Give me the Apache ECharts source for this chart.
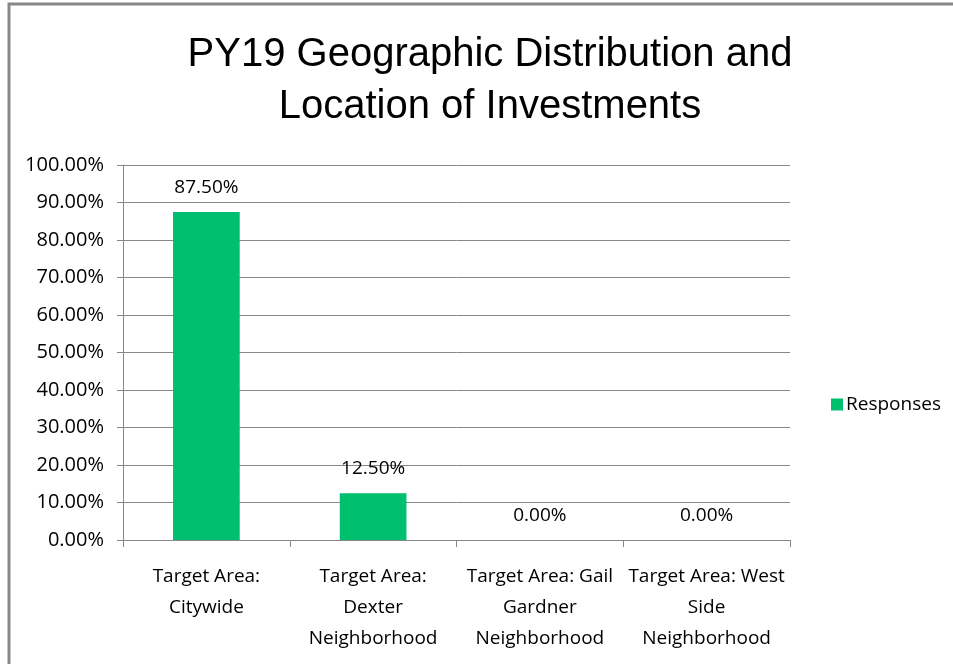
<!DOCTYPE html>
<html>
<head>
<meta charset="utf-8">
<script src="https://cdn.jsdelivr.net/npm/echarts@6/dist/echarts.min.js"></script>
<style>html,body{margin:0;padding:0;background:#fff}#c{width:953px;height:664px}</style>
</head>
<body>
<div id="c"></div>
<script>
const categories = ["Target Area:\nCitywide", "Target Area:\nDexter\nNeighborhood", "Target Area: Gail\nGardner\nNeighborhood", "Target Area: West\nSide\nNeighborhood"];
const responses = [87.5, 12.5, 0, 0];
const seriesName = "Responses";
const titleText = "PY19 Geographic Distribution and\nLocation of Investments";

const chart = echarts.init(document.getElementById('c'));
const font = "'Open Sans', 'Noto Sans', sans-serif";
chart.setOption({
  animation: false,
  graphic: [{
    type: 'rect', shape: {x: 9, y: 4, width: 1000, height: 700},
    style: {fill: 'none', stroke: '#888', lineWidth: 3}, z: -1
  }],
  title: {
    text: titleText, left: 485, top: 24, textAlign: 'center',
    textStyle: {fontFamily: 'Liberation Sans, Arial', fontSize: 40, fontWeight: 'normal', color: '#000', lineHeight: 52}
  },
  legend: {
    data: [seriesName], left: 826, top: 390, itemWidth: 12, itemHeight: 12, itemGap: 4,
    icon: 'rect',
    textStyle: {fontFamily: font, fontSize: 19, color: '#000', padding: [0,0,0,-2]}
  },
  grid: {left: 123, top: 165, width: 667, height: 375},
  xAxis: {
    type: 'category', data: categories,
    axisLine: {lineStyle: {color: '#888', width: 1}},
    axisTick: {show: true, length: 7, lineStyle: {color: '#888'}},
    axisLabel: {interval: 0, fontFamily: font, fontSize: 19, color: '#000', lineHeight: 31, margin: 21}
  },
  yAxis: {
    type: 'value', min: 0, max: 100, interval: 10,
    axisLine: {show: true, lineStyle: {color: '#888'}},
    axisTick: {show: true, inside: false, length: 6, lineStyle: {color: '#888'}},
    splitLine: {lineStyle: {color: '#888', width: 1}},
    axisLabel: {fontFamily: font, fontSize: 20, color: '#000', margin: 19,
      formatter: v => v.toFixed(2) + '%'}
  },
  series: [{
    name: seriesName, type: 'bar', data: responses, barWidth: '40%',
    itemStyle: {color: '#00bf6f'},
    label: {show: true, position: 'top', distance: 15, fontFamily: font, fontSize: 19, color: '#000',
      formatter: p => p.value.toFixed(2) + '%'}
  }]
});
</script>
</body>
</html>
